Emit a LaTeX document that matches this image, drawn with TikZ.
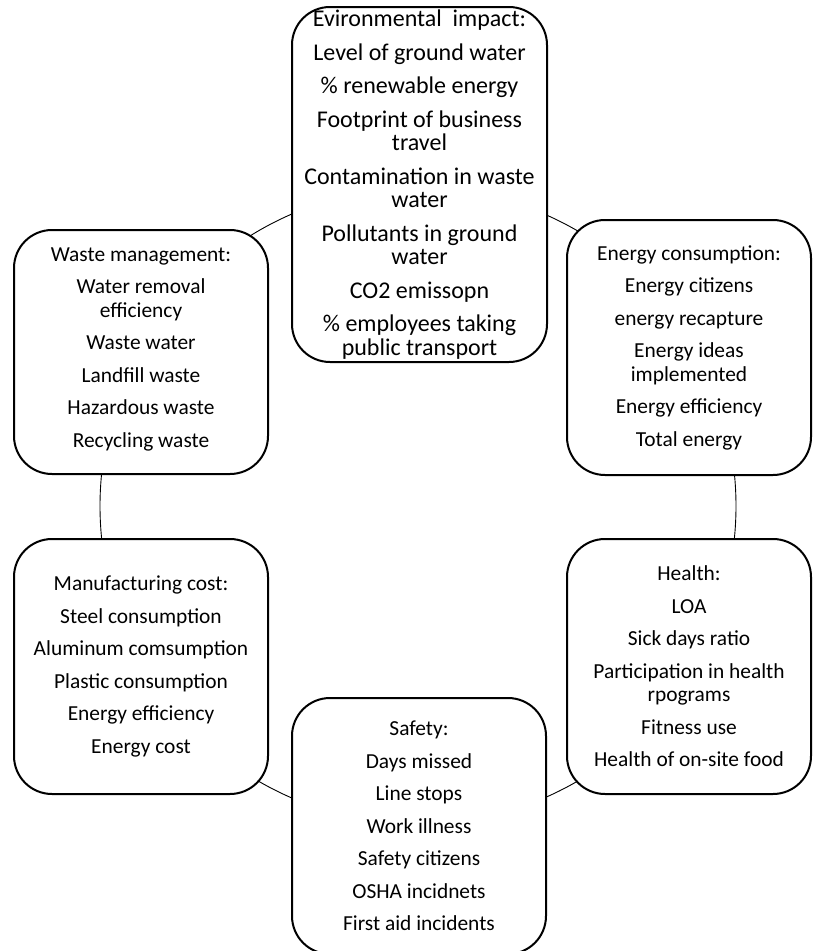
\documentclass[tikz,border=0pt]{standalone}
\usepackage{fontspec}
\setmainfont{Carlito}
\begin{document}
\begin{tikzpicture}[x=1pt,y=-1pt,
  box/.style={draw, line width=2pt, fill=white, rounded corners=38pt, align=center,
    inner sep=0pt, font=\fontsize{21.4}{23.5}\selectfont},
  bigbox/.style={box, font=\fontsize{24}{23.6}\selectfont},
  ringstyle/.style={draw, line width=0.9pt, circle, inner sep=0pt, minimum size=636pt}]
\useasboundingbox (0,0) rectangle (813,951);
\node[ringstyle] (cycle) at (418,506) {};
\node[bigbox, minimum width=255pt, minimum height=355pt] (env) at (419.5,184.5)
 {Evironmental\ \ impact:\\[9.8pt] Level of ground water\\[9.8pt] \% renewable energy\\[9.8pt]
  Footprint of business\\ travel\\[9.8pt] Contamination in waste\\ water\\[9.8pt]
  Pollutants in ground\\ water\\[9.8pt] CO2 emissopn\\[9.8pt] \% employees taking\\ public transport};
\node[box, minimum width=254pt, minimum height=244pt] (waste) at (141,352)
 {Waste management:\\[9pt] Water removal\\ efficiency\\[9pt] Waste water\\[9pt]
  Landfill waste\\[9pt] Hazardous waste\\[9pt] Recycling waste\\[-14.5pt]};
\node[box, minimum width=244pt, minimum height=255pt] (energy) at (689,347.5)
 {Energy consumption:\\[9pt] Energy citizens\\[9pt] energy recapture\\[9pt]
  Energy ideas\\ implemented\\[9pt] Energy efficiency\\[9pt] Total energy};
\node[box, minimum width=254pt, minimum height=255pt] (manuf) at (141,666.5)
 {Manufacturing cost:\\[9pt] Steel consumption\\[9pt] Aluminum comsumption\\[9pt]
  Plastic consumption\\[9pt] Energy efficiency\\[9pt] Energy cost};
\node[box, minimum width=244pt, minimum height=255pt] (health) at (689,666.5)
 {Health:\\[9pt] LOA\\[9pt] Sick days ratio\\[9pt] Participation in health\\ rpograms\\[9pt]
  Fitness use\\[9pt] Health of on-site food};
\node[box, minimum width=254pt, minimum height=256pt] (safety) at (419,826)
 {Safety:\\[9pt] Days missed\\[9pt] Line stops\\[9pt] Work illness\\[9pt]
  Safety citizens\\[9pt] OSHA incidnets\\[9pt] First aid incidents};
\end{tikzpicture}
\end{document}
